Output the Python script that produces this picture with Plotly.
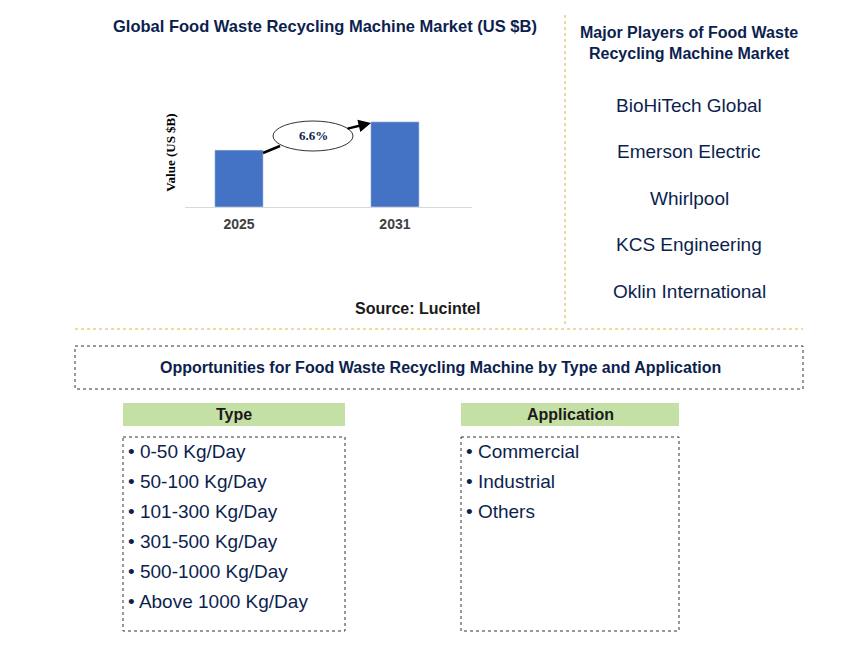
import plotly.graph_objects as go

W, H = 868, 652
years = ["2025", "2031"]
values = [1.67, 2.5]
cagr = "6.6%"
players = ["BioHiTech Global", "Emerson Electric", "Whirlpool", "KCS Engineering", "Oklin International"]
types = ["0-50 Kg/Day", "50-100 Kg/Day", "101-300 Kg/Day", "301-500 Kg/Day", "500-1000 Kg/Day", "Above 1000 Kg/Day"]
apps = ["Commercial", "Industrial", "Others"]

OFF = 8
def px(x): return (x - OFF) / W
def py(y): return 1 - (y - OFF) / H

NAVY = "#0d1f4f"
fig = go.Figure(go.Bar(x=years, y=values, marker_color="#4472c4", width=0.31))
fig.update_layout(
    width=W, height=H, margin=dict(l=0, r=0, t=0, b=0), showlegend=False,
    plot_bgcolor="white", paper_bgcolor="white", font=dict(family="Arial"),
    xaxis=dict(domain=[px(185), px(472)], range=[-0.346, 1.494], showline=True, linecolor="#d9d9d9",
               tickfont=dict(size=14, color="#404040", family="Arial"), ticks="outside", ticklen=4, tickcolor="rgba(0,0,0,0)",
               tickvals=years, ticktext=[f"<b>{y}</b>" for y in years]),
    yaxis=dict(domain=[py(207), py(98)], range=[0, 3.2], showticklabels=False, showgrid=False,
               zeroline=False, title=dict(text="<b>Value (US $B)</b>", font=dict(size=13, family="Liberation Serif", color="black"), standoff=5)),
)
shapes = []
ann = []
def A(x, y, t, size=16, color=NAVY, bold=False, xanchor="center", font="Arial"):
    ann.append(dict(x=px(x), y=py(y), xref="paper", yref="paper", text=f"<b>{t}</b>" if bold else t,
                    showarrow=False, xanchor=xanchor, yanchor="middle", font=dict(size=size, color=color, family=font)))
def R(x0, y0, x1, y1, line=None, fill=None, dash="dot"):
    shapes.append(dict(type="rect", xref="paper", yref="paper", x0=px(x0), x1=px(x1), y0=py(y0), y1=py(y1),
                       line=dict(color=line or "rgba(0,0,0,0)", width=1, dash=dash), fillcolor=fill or "rgba(0,0,0,0)"))
def L(x0, y0, x1, y1, color="#e0b040", dash="dot", width=1):
    shapes.append(dict(type="line", xref="paper", yref="paper", x0=px(x0), x1=px(x1), y0=py(y0), y1=py(y1),
                       line=dict(color=color, width=width, dash=dash)))

A(325, 26, "Global Food Waste Recycling Machine Market (US $B)", 16.5, bold=True)
A(417, 308, "Source: Lucintel", 16, color="#1a1a1a", bold=True)
A(689, 43, "Major Players of Food Waste<br>Recycling Machine Market", 16, bold=True)
for i, p in enumerate(players):
    A(689, 105 + i * 46.5, p, 19)
L(565, 15, 565, 326)
L(75, 329, 803, 329)
R(75, 346, 803, 389, line="#333")
A(440, 367, "Opportunities for Food Waste Recycling Machine by Type and Application", 16, bold=True)
for x0, x1, title, items in [(123, 345, "Type", types), (461, 679, "Application", apps)]:
    R(x0, 403, x1, 426, fill="#c5e0a5", dash="solid")
    A((x0 + x1) / 2, 414, title, 16, color="#1a1a1a", bold=True)
    R(x0, 437, x1, 631, line="#333")
    for i, t in enumerate(items):
        A(x0 + 3, 451 + i * 30, "• " + t, 19, xanchor="left")
L(263, 153, 280, 146, color="black", dash="solid", width=2.5)
ann.append(dict(x=px(371), y=py(123), ax=-25, ay=6, xref="paper", yref="paper", axref="pixel", ayref="pixel",
                showarrow=True, arrowhead=2, arrowwidth=2.5, arrowcolor="black", text=""))
shapes.append(dict(type="circle", xref="paper", yref="paper", x0=px(273), x1=px(353), y0=py(121), y1=py(151),
                   line=dict(color="#333", width=1), fillcolor="white"))
A(313, 136, cagr, 13, color="#0d1f4f", bold=True, font="Liberation Serif")
fig.update_layout(shapes=shapes, annotations=ann)
fig.write_html("out.html")
